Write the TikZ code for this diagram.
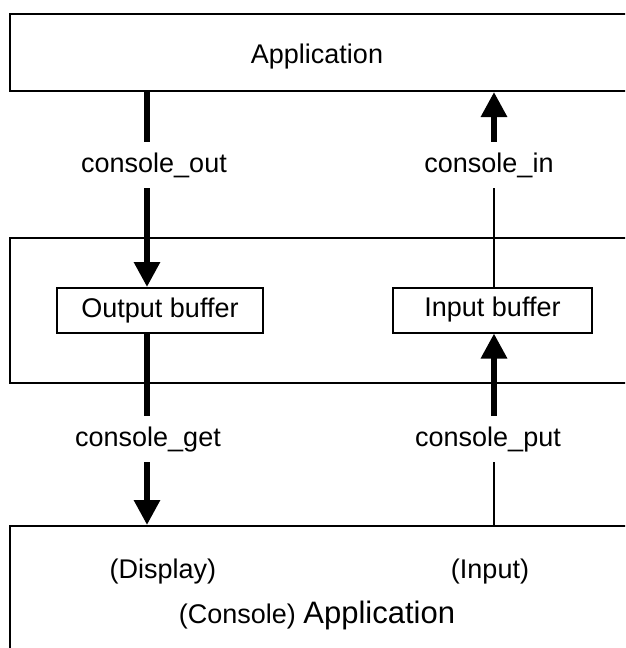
\documentclass[tikz,border=0pt]{standalone}
\usepackage{fontspec}
\setmainfont{Liberation Sans}
\usepackage{tikz}
\usetikzlibrary{arrows.meta, positioning}

\begin{document}
\begin{tikzpicture}[
  x=1pt, y=-1pt,
  layer/.style={rectangle, draw=black, line width=2pt, anchor=north west,
              minimum width=700pt, inner sep=0pt},
  bufbox/.style={rectangle, draw=black, line width=2pt, minimum height=45pt,
              inner sep=0pt, font=\fontsize{27}{32}\selectfont, fill=white},
  lbl/.style={inner xsep=2pt, inner ysep=10pt, text height=20pt, text depth=6pt,
              font=\fontsize{27}{32}\selectfont},
  txt/.style={anchor=base, inner sep=0pt, font=\fontsize{27}{32}\selectfont},
  arrow/.style={-{Triangle[length=25pt, width=25pt]}, line width=6pt},
  bar/.style={line width=6pt},
  thin/.style={line width=2pt}
]
\useasboundingbox (0,0) rectangle (625,648);
\clip (0,0) rectangle (625,648);

% Application
\node[layer, minimum height=77pt] (app) at (9,13) {};
\node[txt] (apptxt) at (317,63) {Application};

% Buffers
\node[layer, minimum height=145pt] (mid) at (9,237) {};
\node[bufbox, minimum width=206pt] (obuf) at (160,310.5) {Output buffer};
\node[bufbox, minimum width=199pt] (ibuf) at (492.5,310) {Input buffer};

% Console application
\node[layer, minimum height=200pt] (con) at (9,525) {};
\node[txt] (disp) at (163,578) {(Display)};
\node[txt] (inp) at (490,578) {(Input)};
\node[txt] (contxt) at (317,623) {(Console) {\fontsize{31}{36}\selectfont Application}};

% Labels
\coordinate (lx) at (147,0);
\coordinate (rx) at (494,0);
\node[lbl] (out) at (154,165) {console\_out};
\node[lbl] (in) at (489,165) {console\_in};
\node[lbl] (get) at (148,439) {console\_get};
\node[lbl] (put) at (488,439) {console\_put};

% Edges
\draw[bar] (app.south -| lx) -- (out.north -| lx);
\draw[arrow] (out.south -| lx) -- (obuf.north -| lx);
\draw[thin] (ibuf.north -| rx) -- (in.south -| rx);
\draw[arrow] (in.north -| rx) -- (app.south -| rx);
\draw[bar] (obuf.south -| lx) -- (get.north -| lx);
\draw[arrow] (get.south -| lx) -- (con.north -| lx);
\draw[thin] (con.north -| rx) -- (put.south -| rx);
\draw[arrow] (put.north -| rx) -- (ibuf.south -| rx);
\end{tikzpicture}
\end{document}
